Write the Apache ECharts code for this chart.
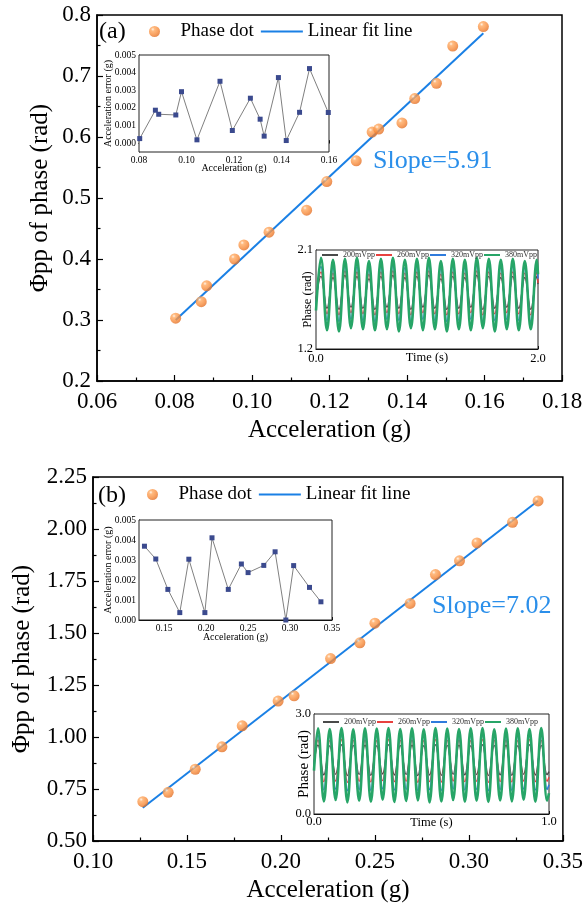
<!DOCTYPE html>
<html>
<head>
<meta charset="utf-8">
<script src="https://cdn.jsdelivr.net/npm/echarts@6/dist/echarts.min.js"></script>
<style>
  html, body { margin: 0; padding: 0; background: #fff; }
  #chart { width: 586px; height: 910px; }
</style>
</head>
<body>
<div id="chart"></div>
<script>
// ---- panel (a) data ----
var accA   = [0.0803, 0.0869, 0.0883, 0.0955, 0.0979, 0.1044, 0.1141, 0.1193, 0.1269, 0.1310, 0.1327, 0.1387, 0.1420, 0.1476, 0.1518, 0.1597];
var phaseA = [0.303, 0.330, 0.356, 0.400, 0.423, 0.444, 0.480, 0.527, 0.561, 0.608, 0.613, 0.623, 0.663, 0.688, 0.749, 0.781];
var errA   = [0.00026, 0.00187, 0.00164, 0.00160, 0.00292, 0.00019, 0.00351, 0.00072, 0.00255, 0.00136, 0.00040, 0.00372, 0.00015, 0.00175, 0.00423, 0.00174];
var fitAx  = [0.0803, 0.1597];
var fitAy  = [0.300, 0.770];

// phase vs time, inset of (a): turning points
var tA = [0, 0.045, 0.099, 0.153, 0.207, 0.261, 0.315, 0.369, 0.423, 0.477, 0.531, 0.585, 0.639, 0.693, 0.747, 0.801, 0.855, 0.909, 0.963, 1.017,
          1.071, 1.125, 1.179, 1.233, 1.287, 1.341, 1.395, 1.449, 1.503, 1.557, 1.611, 1.665, 1.719, 1.773, 1.827, 1.881, 1.935, 1.989, 2.0];
var v200A = [1.65, 1.86,1.57, 1.85,1.56, 1.87,1.58, 1.86,1.57, 1.84,1.56, 1.86,1.58, 1.87,1.57, 1.85,1.56, 1.86,1.58, 1.87,1.57, 1.84,1.56, 1.86,1.57, 1.85,1.58, 1.87,1.56, 1.86,1.57, 1.85,1.58, 1.86,1.57, 1.85,1.56, 1.86, 1.79];
var v260A = [1.63, 1.90,1.52, 1.89,1.51, 1.91,1.53, 1.90,1.52, 1.88,1.51, 1.90,1.53, 1.91,1.52, 1.89,1.51, 1.90,1.53, 1.91,1.52, 1.88,1.51, 1.90,1.52, 1.89,1.53, 1.91,1.51, 1.90,1.52, 1.89,1.53, 1.90,1.52, 1.89,1.51, 1.90, 1.80];
var v320A = [1.60, 1.95,1.46, 1.94,1.45, 1.96,1.47, 1.95,1.46, 1.93,1.45, 1.95,1.47, 1.96,1.46, 1.94,1.45, 1.95,1.47, 1.96,1.46, 1.93,1.45, 1.95,1.46, 1.94,1.47, 1.96,1.45, 1.95,1.46, 1.94,1.47, 1.95,1.46, 1.94,1.45, 1.95, 1.84];
var v380A = [1.55, 2.03,1.37, 2.01,1.36, 2.02,1.39, 2.03,1.38, 2.00,1.37, 2.02,1.38, 2.03,1.36, 2.01,1.39, 2.02,1.37, 2.03,1.38, 2.00,1.36, 2.02,1.38, 2.01,1.37, 2.03,1.39, 2.02,1.36, 2.01,1.38, 2.02,1.37, 2.00,1.38, 2.01, 1.88];

// ---- panel (b) data ----
var accB   = [0.1265, 0.1400, 0.1544, 0.1686, 0.1794, 0.1985, 0.2070, 0.2264, 0.2420, 0.2500, 0.2687, 0.2822, 0.2950, 0.3043, 0.3232, 0.3368];
var phaseB = [0.689, 0.734, 0.845, 0.953, 1.054, 1.173, 1.198, 1.377, 1.453, 1.547, 1.642, 1.781, 1.847, 1.933, 2.032, 2.135];
var errB   = [0.00369, 0.00305, 0.00153, 0.00037, 0.00304, 0.00037, 0.00411, 0.00153, 0.00280, 0.00237, 0.00273, 0.00341, 0.00000, 0.00272, 0.00163, 0.00091];
var fitBx  = [0.1265, 0.3368];
var fitBy  = [0.660, 2.136];

var tB = [0, 0.017, 0.042, 0.067, 0.092, 0.117, 0.142, 0.167, 0.192, 0.217, 0.242, 0.267, 0.292, 0.317, 0.342, 0.367, 0.392, 0.417, 0.442, 0.467, 0.492,
          0.517, 0.542, 0.567, 0.592, 0.617, 0.642, 0.667, 0.692, 0.717, 0.742, 0.767, 0.792, 0.817, 0.842, 0.867, 0.892, 0.917, 0.942, 0.967, 0.992, 1.0];
var v200B = [1.50, 2.07,1.17, 2.05,1.19, 2.08,1.15, 2.06,1.18, 2.07,1.16, 2.05,1.20, 2.08,1.17, 2.06,1.18, 2.07,1.15, 2.05,1.17, 2.08,1.16, 2.06,1.19, 2.07,1.17, 2.05,1.18, 2.08,1.15, 2.06,1.17, 2.07,1.16, 2.05,1.19, 2.08,1.17, 2.06,1.18, 1.27];
var v260B = [1.45, 2.22,0.97, 2.20,0.99, 2.23,0.95, 2.21,0.98, 2.22,0.96, 2.20,1.00, 2.23,0.97, 2.21,0.98, 2.22,0.95, 2.20,0.97, 2.23,0.96, 2.21,0.99, 2.22,0.97, 2.20,0.98, 2.23,0.95, 2.21,0.97, 2.22,0.96, 2.20,0.99, 2.23,0.97, 2.21,0.98, 1.10];
var v320B = [1.40, 2.37,0.72, 2.35,0.75, 2.38,0.70, 2.36,0.73, 2.37,0.71, 2.35,0.76, 2.38,0.72, 2.36,0.74, 2.37,0.70, 2.35,0.73, 2.38,0.71, 2.36,0.75, 2.37,0.72, 2.35,0.74, 2.38,0.70, 2.36,0.73, 2.37,0.71, 2.35,0.75, 2.38,0.72, 2.36,0.74, 0.88];
var v380B = [1.30, 2.57,0.38, 2.55,0.42, 2.58,0.35, 2.54,0.40, 2.57,0.37, 2.56,0.43, 2.58,0.36, 2.55,0.39, 2.57,0.41, 2.54,0.35, 2.58,0.38, 2.56,0.42, 2.55,0.37, 2.57,0.40, 2.58,0.36, 2.54,0.41, 2.56,0.38, 2.57,0.43, 2.55,0.37, 2.58,0.40, 0.62];

var ampNames  = ['200mVpp', '260mVpp', '320mVpp', '380mVpp'];
var ampColors = ['#4a4a4a', '#e8413f', '#2f7bdc', '#27a567'];
var ampWidths = [1.4, 1.4, 1.6, 2.6];

var FONT = "'Liberation Serif', 'Times New Roman', serif";

function zip(xs, ys) {
  var out = [];
  for (var i = 0; i < xs.length; i++) out.push([xs[i], ys[i]]);
  return out;
}

var dotColor = new echarts.graphic.RadialGradient(0.35, 0.3, 0.75, [
  { offset: 0, color: '#fff1e2' },
  { offset: 0.22, color: '#ffaa62' },
  { offset: 0.65, color: '#f78b3b' },
  { offset: 1, color: '#df6d25' }
]);

// big axes of the two main panels
function mainAxis(grid, min, max, step, digits, name, gap, margin) {
  return {
    type: 'value', gridIndex: grid, min: min, max: max, interval: step,
    name: name, nameLocation: 'middle', nameGap: gap, nameMoveOverlap: false,
    nameTextStyle: { fontFamily: FONT, fontSize: 25, color: '#000' },
    axisLine: { lineStyle: { color: '#000', width: 1.5 } },
    axisTick: { inside: true, length: 6, lineStyle: { color: '#000', width: 1.2 } },
    minorTick: { show: true, splitNumber: 2, length: 3.5, lineStyle: { color: '#000', width: 1.2 } },
    splitLine: { show: false },
    axisLabel: {
      fontFamily: FONT, fontSize: 23, color: '#000', margin: margin,
      formatter: function (v) { return v.toFixed(digits); }
    }
  };
}

// small axes of the insets
function insetAxis(grid, min, max, opts) {
  var ax = {
    type: 'value', gridIndex: grid, min: min, max: max,
    name: opts.name, nameLocation: 'middle', nameGap: opts.gap, nameMoveOverlap: false,
    nameTextStyle: { fontFamily: FONT, fontSize: opts.nameSize || 10, color: '#000' },
    axisLine: { lineStyle: { color: '#000', width: 1 } },
    axisTick: { inside: true, length: 3, lineStyle: { color: '#000', width: 1 } },
    splitLine: { show: false },
    axisLabel: {
      fontFamily: FONT, fontSize: opts.labelSize || 9.5, color: '#000', margin: opts.margin,
      formatter: function (v) { return v.toFixed(opts.digits); }
    }
  };
  if (opts.interval) ax.interval = opts.interval;
  if (opts.labels) {
    ax.axisLabel.customValues = opts.labels;
    ax.axisTick.customValues = opts.ticks || opts.labels;
  }
  return ax;
}

// legend entries for lines: line only, no marker
function lineOnly(name) {
  return { name: name, itemStyle: { opacity: 0 } };
}

var insetGrid = { show: true, backgroundColor: '#fff', borderColor: '#222', borderWidth: 1, z: 5 };
var ampLegend = ampNames.map(lineOnly);

var option = {
  animation: false,
  backgroundColor: '#fff',
  grid: [
    { left: 97, top: 15, width: 465, height: 366, show: true, borderColor: '#000', borderWidth: 1.5 },   // (a)
    Object.assign({ left: 139, top: 55, width: 190, height: 97 }, insetGrid),                        // (a) error
    Object.assign({ left: 316, top: 250, width: 222, height: 99 }, insetGrid),                       // (a) phase vs time
    { left: 93, top: 477, width: 470, height: 364, show: true, borderColor: '#000', borderWidth: 1.5 },  // (b)
    Object.assign({ left: 139, top: 520, width: 193, height: 100 }, insetGrid),                      // (b) error
    Object.assign({ left: 314, top: 714, width: 235, height: 100 }, insetGrid)                       // (b) phase vs time
  ],
  xAxis: [
    mainAxis(0, 0.06, 0.18, 0.02, 2, 'Acceleration (g)', 37, 9),
    insetAxis(1, 0.08, 0.16, { interval: 0.02, digits: 2, name: 'Acceleration (g)', gap: 11, margin: 3 }),
    insetAxis(2, 0, 2, { digits: 1, name: 'Time (s)', gap: 2, margin: 3, labelSize: 12.5, nameSize: 12.5, labels: [0, 2], ticks: [0, 1, 2] }),
    mainAxis(3, 0.10, 0.35, 0.05, 2, 'Acceleration (g)', 37, 9),
    insetAxis(4, 0.12, 0.35, { digits: 2, name: 'Acceleration (g)', gap: 12, margin: 3, labels: [0.15, 0.20, 0.25, 0.30, 0.35] }),
    insetAxis(5, 0, 1, { digits: 1, name: 'Time (s)', gap: 2, margin: 1, labelSize: 12.5, nameSize: 12.5, labels: [0, 1], ticks: [0, 0.5, 1] })
  ],
  yAxis: [
    mainAxis(0, 0.2, 0.8, 0.1, 1, 'Φpp of phase (rad)', 44, 6),
    insetAxis(1, -0.0005, 0.005, { digits: 3, name: 'Acceleration error (g)', gap: 26, margin: 3,
      labels: [0, 0.001, 0.002, 0.003, 0.004, 0.005] }),
    insetAxis(2, 1.2, 2.1, { digits: 1, name: 'Phase (rad)', gap: 2, margin: 3, labelSize: 12.5, nameSize: 12.5, labels: [1.2, 2.1] }),
    mainAxis(3, 0.5, 2.25, 0.25, 2, 'Φpp of phase (rad)', 58, 6),
    insetAxis(4, 0, 0.005, { interval: 0.001, digits: 3, name: 'Acceleration error (g)', gap: 26, margin: 3 }),
    insetAxis(5, 0, 3, { digits: 1, name: 'Phase (rad)', gap: 2, margin: 3, labelSize: 12.5, nameSize: 15, labels: [0, 3] })
  ],
  legend: [
    { data: ['Phase dot', lineOnly('Linear fit line')], left: 149, top: 22, padding: 0, itemWidth: 42, itemHeight: 11, itemGap: 6,
      textStyle: { fontFamily: FONT, fontSize: 19, color: '#000' } },
    { data: ['Phase dot', lineOnly('Linear fit line')], left: 147, top: 485, padding: 0, itemWidth: 42, itemHeight: 11, itemGap: 6,
      textStyle: { fontFamily: FONT, fontSize: 19, color: '#000' } },
    { data: ampLegend, left: 321, top: 251, padding: 0, itemWidth: 16, itemHeight: 8, itemGap: 0, z: 10,
      textStyle: { fontFamily: FONT, fontSize: 8, color: '#333' } },
    { data: ampLegend, left: 322, top: 718, padding: 0, itemWidth: 16, itemHeight: 8, itemGap: 0, z: 10,
      textStyle: { fontFamily: FONT, fontSize: 8, color: '#333' } }
  ],
  graphic: [
    { type: 'text', left: 99, top: 20, style: { text: '(a)', font: '24px ' + FONT, fill: '#000' } },
    { type: 'text', left: 98, top: 484, style: { text: '(b)', font: '24px ' + FONT, fill: '#000' } },
    { type: 'text', left: 373, top: 148, style: { text: 'Slope=5.91', font: '26px ' + FONT, fill: '#2b8fea' } },
    { type: 'text', left: 432, top: 593, style: { text: 'Slope=7.02', font: '26px ' + FONT, fill: '#2b8fea' } }
  ],
  series: []
};

// main panels
option.series.push(
  { name: 'Linear fit line', type: 'line', xAxisIndex: 0, yAxisIndex: 0, data: zip(fitAx, fitAy), symbol: 'none',
    lineStyle: { color: '#1a80e5', width: 2 } },
  { name: 'Phase dot', type: 'scatter', xAxisIndex: 0, yAxisIndex: 0, data: zip(accA, phaseA), symbolSize: 11,
    itemStyle: { color: dotColor }, z: 3 },
  { name: 'Linear fit line', type: 'line', xAxisIndex: 3, yAxisIndex: 3, data: zip(fitBx, fitBy), symbol: 'none',
    lineStyle: { color: '#1a80e5', width: 2 } },
  { name: 'Phase dot', type: 'scatter', xAxisIndex: 3, yAxisIndex: 3, data: zip(accB, phaseB), symbolSize: 11,
    itemStyle: { color: dotColor }, z: 3 }
);

// error insets
[[1, accA, errA], [4, accB, errB]].forEach(function (s) {
  option.series.push({
    name: 'error', type: 'line', xAxisIndex: s[0], yAxisIndex: s[0], data: zip(s[1], s[2]),
    symbol: 'rect', symbolSize: 5, z: 6,
    lineStyle: { color: '#808080', width: 1 },
    itemStyle: { color: '#3b4a8e' }
  });
});

// phase vs time insets
var wavesA = [v200A, v260A, v320A, v380A];
var wavesB = [v200B, v260B, v320B, v380B];
for (var k = 0; k < 4; k++) {
  option.series.push({
    name: ampNames[k], type: 'line', xAxisIndex: 2, yAxisIndex: 2, data: zip(tA, wavesA[k]),
    symbol: 'none', smooth: 0.4, z: 6 + k,
    lineStyle: { color: ampColors[k], width: ampWidths[k] }, itemStyle: { color: ampColors[k] }
  });
  option.series.push({
    name: ampNames[k], type: 'line', xAxisIndex: 5, yAxisIndex: 5, data: zip(tB, wavesB[k]),
    symbol: 'none', smooth: 0.4, z: 6 + k,
    lineStyle: { color: ampColors[k], width: ampWidths[k] }, itemStyle: { color: ampColors[k] }
  });
}

var chart = echarts.init(document.getElementById('chart'));
chart.setOption(option);
</script>
</body>
</html>
